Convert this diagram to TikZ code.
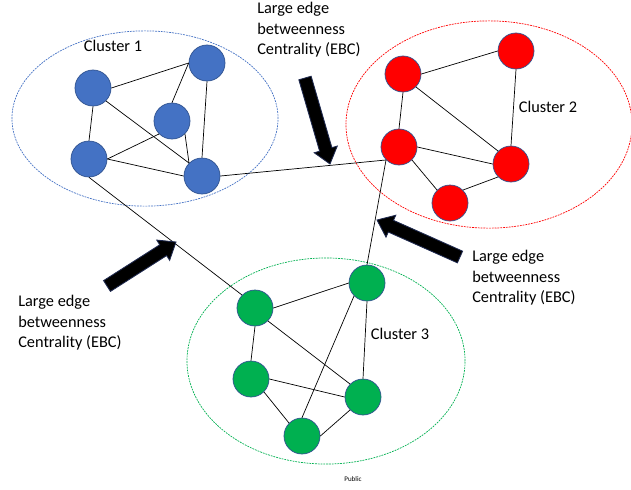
\documentclass[tikz,border=0pt]{standalone}
\usepackage{fontspec}
\setmainfont{Carlito}
\usepackage{tikz}
\usetikzlibrary{calc}
\definecolor{nodeblue}{HTML}{4472C4}
\definecolor{noderim}{HTML}{2F528F}
\definecolor{nodegreen}{HTML}{00B050}
\definecolor{arrowrim}{HTML}{1F2A50}
\tikzstyle{vertex} = [circle, draw=noderim, line width=0.5pt, minimum size=0.9cm, inner sep=0pt]
\tikzstyle{bluevertex} = [vertex, fill=nodeblue]
\tikzstyle{redvertex} = [vertex, fill=red]
\tikzstyle{greenvertex} = [vertex, fill=nodegreen]
\tikzstyle{link} = [draw=black, line width=0.5pt]
\tikzstyle{cluster} = [line width=0.5pt, dash pattern=on 1.3pt off 0.7pt]
\tikzstyle{ebctext} = [font=\fontsize{11.6}{14.6}\selectfont, align=left, anchor=west, inner sep=0pt]
\tikzstyle{clustername} = [font=\fontsize{11.6}{14.6}\selectfont, inner sep=0pt]
\newcommand{\ebcarrow}[2]{%
	\coordinate (#1-base) at ($(#2)!0.38cm!(#1)$);
	\draw[draw=arrowrim, fill=black, line width=0.6pt, line join=miter]
		($(#1)!0.16cm!90:(#2)$) -- ($(#1-base)!0.16cm!90:(#2)$) -- ($(#1-base)!0.3cm!90:(#2)$)
		-- (#2) -- ($(#1-base)!0.3cm!-90:(#2)$) -- ($(#1-base)!0.16cm!-90:(#2)$)
		-- ($(#1)!0.16cm!-90:(#2)$) -- cycle;}
\begin{document}
\begin{tikzpicture}[x=0.025cm, y=-0.025cm]
	\useasboundingbox (0,0) rectangle (631,489);
	\draw[cluster, nodeblue] (145,118.5) ellipse [x radius=3.325cm, y radius=2.19cm];
	\draw[cluster, red] (489,124.5) ellipse [x radius=3.575cm, y radius=2.59cm];
	\draw[cluster, nodegreen] (326,361) ellipse [x radius=3.475cm, y radius=2.575cm];

	\node[bluevertex] (a) at (93,88) {};
	\node[bluevertex] (b) at (207,63) {};
	\node[bluevertex] (c) at (172,121) {};
	\node[bluevertex] (d) at (89,159) {};
	\node[bluevertex] (e) at (202,176) {};

	\node[redvertex] (r1) at (403,74) {};
	\node[redvertex] (r2) at (516,51) {};
	\node[redvertex] (r3) at (399,147) {};
	\node[redvertex] (r4) at (511,164) {};
	\node[redvertex] (r5) at (450,203) {};

	\node[greenvertex] (g1) at (255,308) {};
	\node[greenvertex] (g2) at (367,283) {};
	\node[greenvertex] (g3) at (251,379) {};
	\node[greenvertex] (g4) at (363,397) {};
	\node[greenvertex] (g5) at (302,436) {};

	\draw[link] (a.east) -- (b.west);
	\draw[link] (a.south) -- (d.north);
	\draw[link] (a.south east) -- (e.north west);
	\draw[link] (c.north) -- (b.west);
	\draw[link] (b.south) -- (e.north);
	\draw[link] (c.south west) -- (d.east);
	\draw[link] (c.south east) -- (e.north west);
	\draw[link] (d.east) -- (e.west);

	\draw[link] (r1.east) -- (r2.west);
	\draw[link] (r1.south) -- (r3.north);
	\draw[link] (r1.south east) -- (r4.north west);
	\draw[link] (r2.south) -- (r4.north);
	\draw[link] (r3.east) -- (r4.west);
	\draw[link] (r3.south east) -- (r5.north west);
	\draw[link] (r4.south west) -- (r5.north east);

	\draw[link] (g1.east) -- (g2.west);
	\draw[link] (g1.south) -- (g3.north);
	\draw[link] (g1.south east) -- (g4.north west);
	\draw[link] (g2.south) -- (g4.north);
	\draw[link] (g2.south west) -- (g5.north);
	\draw[link] (g3.east) -- (g4.west);
	\draw[link] (g3.south east) -- (g5.north west);
	\draw[link] (g4.south west) -- (g5.east);

	\draw[link] (e.east) -- (r3.south west);
	\draw[link] (d.south) -- (g1.north west);
	\draw[link] (r3.south west) -- (g2.north);

	\node[clustername] (name1) at (113,46) {Cluster 1};
	\node[clustername] (name2) at (548,107) {Cluster 2};
	\node[clustername] (name3) at (400,334) {Cluster 3};

	\node[ebctext] (ebctop) at (257,30) {Large edge\\betweenness\\Centrality (EBC)};
	\node[ebctext] (ebcleft) at (18,323) {Large edge\\betweenness\\Centrality (EBC)};
	\node[ebctext] (ebcright) at (472,278) {Large edge\\betweenness\\Centrality (EBC)};

	\coordinate (toptail) at (305,78);
	\coordinate (toptip) at (330,164);
	\coordinate (lefttail) at (107,286);
	\coordinate (lefttip) at (176,242);
	\coordinate (righttail) at (460,257);
	\coordinate (righttip) at (377,220);
	\ebcarrow{toptail}{toptip}
	\ebcarrow{lefttail}{lefttip}
	\ebcarrow{righttail}{righttip}

	\node[font=\fontsize{5}{6}\selectfont] (public) at (353,479) {Public};
\end{tikzpicture}
\end{document}
